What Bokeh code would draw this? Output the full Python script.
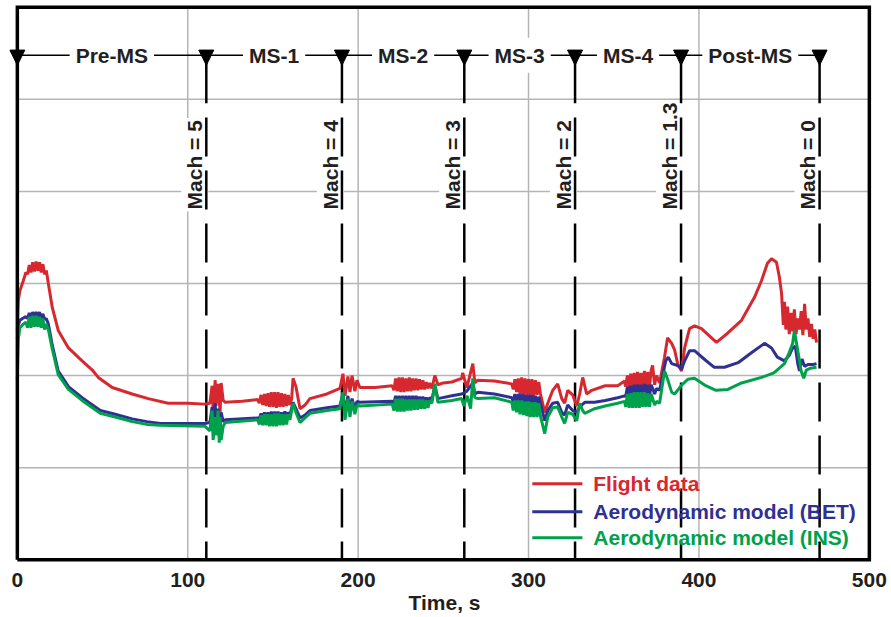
import math
from bokeh.plotting import figure
from bokeh.models import Range1d, FixedTicker
from bokeh.core.properties import value
from bokeh.embed import file_html
from bokeh.resources import INLINE

# ---------------- data (time in s, signal in grid units) ----------------
FLIGHT = [
(0,2.49),(0.6,2.82),(1.5,2.92),(3.5,3.03),(5,3.12),
(6,3.10),(7,3.20),(8,3.12),(9,3.23),(10,3.13),(11,3.24),(12,3.14),(13,3.23),(14,3.12),(15,3.21),(16,3.10),(17,3.14),
(18.2,3.00),(20.5,2.74),(24,2.49),(30,2.30),(38,2.16),(44,2.06),(47.5,1.98),(55.7,1.87),(67.4,1.80),(76.8,1.75),(88.5,1.70),(100,1.70),(110,1.69),
(113,1.70),(114.3,1.89),(114.9,1.62),(116.1,1.95),(116.6,1.67),(117.8,1.91),(119,1.60),(119.6,1.92),(120.8,1.73),(122,1.71),(132,1.72),(141,1.74),
(142,1.70),(143,1.79),(144,1.68),(145,1.80),(146,1.67),(147,1.81),(148,1.66),(149,1.82),(150,1.66),(151,1.82),(152,1.65),(153,1.82),(154,1.66),(155,1.81),(156,1.66),(157,1.80),(158,1.67),(159,1.79),(160,1.68),(161,1.75),
(161.8,1.97),(163.5,1.88),(165.9,1.64),(168.8,1.68),(171.7,1.75),(181.7,1.80),(189.3,1.86),
(191.1,2.02),(192.3,1.78),(194,1.99),(195.2,1.82),(196.4,2.00),(198.1,1.83),(199.3,1.95),(201,1.87),(210,1.87),(220,1.89),
(221,1.84),(222,1.97),(223,1.83),(224,1.98),(225,1.82),(226,1.98),(227,1.82),(228,1.97),(229,1.83),(230,1.98),(231,1.83),(232,1.97),(233,1.84),(234,1.97),(235,1.84),(236,1.96),(237,1.85),(238,1.95),(239,1.85),(240,1.93),(241,1.86),(242,1.92),(243.3,1.86),
(245,2.00),(246.8,1.90),(250,1.92),(255,1.93),(260.8,1.97),(261.4,2.03),(263.8,1.87),(267.3,2.13),(268.5,1.92),(270.2,1.95),(280,1.94),(290.2,1.91),
(291,1.85),(292,1.96),(293,1.82),(294,1.97),(295,1.80),(296,1.98),(297,1.79),(298,1.97),(299,1.79),(300,1.96),(301,1.78),(302,1.96),(303,1.78),(304,1.95),(305,1.79),(306,1.93),(307,1.80),
(309.5,1.60),(311.3,1.70),(314.2,1.84),(317.1,1.91),(319.5,1.75),(321.2,1.70),(323,1.84),(325.9,1.79),(328.3,1.67),(330,1.80),(331.8,1.98),(334.1,1.80),(337.1,1.84),(345,1.89),(352.3,1.89),(356.4,1.94),
(357,1.88),(358,2.00),(359,1.87),(360,2.02),(361,1.87),(362,2.03),(363,1.86),(364,2.04),(365,1.87),(366,2.03),(367,1.86),(368,2.05),(369,1.87),(370,2.04),(371,1.88),(372,2.06),(372.8,2.11),(374,1.90),(375.1,2.00),
(376.9,1.92),(379.8,2.20),(381.6,2.41),(384,2.35),(385.7,2.28),(387.5,2.13),(389.8,2.05),(391.6,2.30),(394.5,2.51),(397.4,2.54),(401.5,2.51),(407.4,2.41),(410.3,2.36),(416.8,2.46),(425,2.60),(432.6,2.85),(436.7,3.03),(440.2,3.22),(442.6,3.27),(445.5,3.23),(447.2,3.07),(448.5,2.89),(449.5,2.55),
(450.2,2.80),(451,2.50),(452,2.75),(453,2.45),(454,2.68),(455,2.48),(456,2.72),(457,2.45),(458,2.62),(459,2.50),(460,2.70),(461,2.44),(462,2.78),(463,2.50),(464,2.62),(465,2.42),(466,2.56),(467,2.40),(468,2.50),(469,2.36)]

BET = [
(0,2.40),(0.6,2.55),(1.5,2.60),(3,2.62),(5,2.64),
(6,2.62),(7,2.68),(8,2.62),(9,2.69),(10,2.63),(11,2.69),(12,2.63),(13,2.69),(14,2.62),(15,2.67),(16,2.61),(17,2.62),
(18.2,2.56),(20.5,2.33),(24,2.05),(30,1.88),(38,1.76),(48.7,1.62),(57.4,1.58),(67.4,1.53),(76,1.50),(84,1.48),(110,1.48),
(113,1.49),(114.3,1.66),(114.9,1.46),(116.1,1.70),(116.6,1.50),(117.8,1.64),(119,1.44),(119.6,1.60),(120.8,1.50),(122,1.52),(141,1.54),
(142,1.53),(143,1.59),(144,1.52),(145,1.60),(146,1.52),(147,1.60),(148,1.52),(149,1.61),(150,1.52),(151,1.61),(152,1.53),(153,1.61),(154,1.53),(155,1.60),(156,1.54),(157,1.61),(158,1.55),(159,1.60),(160,1.57),
(161.8,1.71),(163.5,1.64),(165.9,1.54),(168.8,1.57),(171.7,1.62),(181.7,1.65),(189.3,1.67),
(191.1,1.80),(192.3,1.60),(194,1.78),(195.2,1.62),(196.4,1.75),(198.1,1.64),(199.3,1.72),(201,1.71),(220,1.72),
(221,1.70),(222,1.78),(223,1.70),(224,1.78),(225,1.70),(226,1.78),(227,1.71),(228,1.78),(229,1.71),(230,1.78),(231,1.71),(232,1.78),(233,1.72),(234,1.78),(235,1.72),(236,1.77),(237,1.72),(238,1.77),(239,1.73),(240,1.76),(241,1.73),(242,1.76),(243.3,1.74),
(245,1.89),(246.8,1.75),(255,1.78),(260.8,1.80),(263.8,1.83),(267.3,1.92),(268.5,1.80),(270.2,1.82),(280,1.80),(290.2,1.76),
(291,1.72),(292,1.80),(293,1.71),(294,1.80),(295,1.70),(296,1.80),(297,1.70),(298,1.79),(299,1.70),(300,1.79),(301,1.69),(302,1.79),(303,1.69),(304,1.78),(305,1.69),(306,1.77),(307,1.70),
(309.5,1.51),(311.3,1.62),(314.2,1.70),(317.1,1.71),(319.5,1.60),(321.2,1.57),(323,1.68),(325.9,1.62),(328.3,1.60),(330,1.66),(333,1.71),(338.8,1.71),(345,1.73),(352.3,1.76),(356.4,1.78),
(357,1.77),(358,1.88),(359,1.77),(360,1.89),(361,1.77),(362,1.90),(363,1.77),(364,1.90),(365,1.78),(366,1.90),(367,1.78),(368,1.91),(369,1.78),(370,1.90),(371,1.78),(372,1.90),(374,1.80),(375.1,1.86),
(376.9,1.84),(380.5,2.16),(382,2.20),(384,2.13),(387.5,2.11),(389.8,2.07),(391.6,2.16),(394.5,2.27),(397.4,2.27),(403,2.18),(409,2.09),(415,2.09),(423,2.14),(431,2.25),(438.5,2.35),(442.6,2.30),(446,2.20),(450.2,2.16),(453,2.22),(455,2.30),(456.5,2.32),(458,2.13),(459,2.05),(460.5,2.18),(462,2.10),(464,2.12),(467,2.12),(469,2.13)]

INS = [
(0,1.95),(0.6,2.40),(1.5,2.52),(3,2.55),(5,2.58),
(6,2.52),(7,2.64),(8,2.52),(9,2.65),(10,2.53),(11,2.65),(12,2.53),(13,2.64),(14,2.52),(15,2.62),(16,2.50),(17,2.56),
(18.2,2.50),(20.5,2.29),(24,2.01),(30,1.85),(38,1.73),(48.7,1.59),(57.4,1.55),(67.4,1.50),(76,1.47),(84,1.46),(110,1.45),
(113,1.40),(114.3,1.62),(114.9,1.30),(116.1,1.55),(116.6,1.35),(117.8,1.62),(118.5,1.27),(119,1.55),(119.6,1.30),(120.8,1.45),(122,1.49),(141,1.52),
(142,1.47),(143,1.57),(144,1.46),(145,1.58),(146,1.46),(147,1.58),(148,1.45),(149,1.58),(150,1.45),(151,1.59),(152,1.45),(153,1.59),(154,1.46),(155,1.58),(156,1.46),(157,1.58),(158,1.47),(159,1.58),(160,1.52),
(161.8,1.70),(163.5,1.60),(165.9,1.49),(168.8,1.54),(171.7,1.59),(181.7,1.62),(189.3,1.64),
(191.1,1.82),(192.3,1.52),(194,1.75),(195.2,1.55),(196.4,1.72),(198.1,1.58),(199.3,1.68),(201,1.67),(220,1.69),
(221,1.62),(222,1.75),(223,1.61),(224,1.75),(225,1.61),(226,1.75),(227,1.61),(228,1.74),(229,1.62),(230,1.74),(231,1.62),(232,1.74),(233,1.63),(234,1.74),(235,1.63),(236,1.74),(237,1.64),(238,1.74),(239,1.64),(240,1.73),(241,1.65),(242,1.73),(243.3,1.70),
(245,1.91),(246.8,1.71),(255,1.73),(260.8,1.75),(262,1.67),(264,1.78),(266,1.64),(267.3,1.97),(268.5,1.76),(270.2,1.75),(280,1.76),(290.2,1.71),
(291,1.62),(292,1.73),(293,1.60),(294,1.73),(295,1.58),(296,1.73),(297,1.57),(298,1.72),(299,1.56),(300,1.72),(301,1.55),(302,1.71),(303,1.55),(304,1.71),(305,1.55),(306,1.70),(307,1.56),
(309.5,1.37),(311.3,1.55),(314.2,1.65),(317.1,1.66),(319.5,1.55),(321.2,1.48),(323,1.60),(325.9,1.58),(328.3,1.51),(330,1.70),(331.8,1.62),(333,1.59),(338.8,1.64),(345,1.67),(352.3,1.70),(356.4,1.72),
(357,1.66),(358,1.80),(359,1.65),(360,1.81),(361,1.65),(362,1.82),(363,1.65),(364,1.82),(365,1.65),(366,1.82),(367,1.66),(368,1.82),(369,1.66),(370,1.81),(371,1.66),(372,1.80),(374,1.68),(375.1,1.72),
(376.9,1.70),(379.8,2.05),(381.6,1.96),(384,1.82),(385.7,1.80),(387.5,1.84),(390,1.90),(393.5,1.96),(397.4,1.97),(404,1.89),(410,1.84),(417,1.85),(425,1.92),(436.7,1.98),(444,2.03),(450.2,2.13),(453,2.25),(455,2.35),(456,2.49),(458,2.27),(460,2.05),(461.5,1.97),(463,2.06),(465.5,2.08),(469,2.09)]

phase_bounds = [0, 110.9, 190.5, 262.3, 327.3, 389.5, 470.8]
phase_names = ["Pre-MS", "MS-1", "MS-2", "MS-3", "MS-4", "Post-MS"]
mach_labels = ["Mach = 5", "Mach = 4", "Mach = 3", "Mach = 2", "Mach = 1.3", "Mach = 0"]
x_ticks = [0, 100, 200, 300, 400, 500]
x_grid = [100, 200, 300, 400]
y_grid = [1, 2, 3, 4, 5]
x_span = [0, 500]
y_span = [0, 6]
series_names = ["Flight data", "Aerodynamic model (BET)", "Aerodynamic model (INS)"]
series_colors = ["#d7282f", "#2e3192", "#00a14b"]

# ---------------- styling constants ----------------
FONT = value("Liberation Sans")
TXT = "#231f20"
GRID = "#b5b5b5"
FS = "21px"
PHASE_Y = 5.478          # level of phase bar
TRI_TOP = 5.535
TRI_TIP = 5.37
TRI_HALF = 4.4           # half width of triangle, in s
SOLID_END = 4.957
DASH_START = 4.804
MACH_LABEL_Y = 3.783
MACH_LABEL_DX = -6.8     # label centre left of the line, in s
PAD_X = 4.6              # room outside the box so the first triangle is not cut
PAD_Y = 0.03
FRAME_W = 870
PX_PER_S = 1.704

x0, x1 = x_span
y0, y1 = y_span
p = figure(width=891, height=617, frame_width=FRAME_W, frame_height=558,
           x_range=Range1d(x0 - PAD_X, x0 - PAD_X + FRAME_W / PX_PER_S), y_range=Range1d(y0 - PAD_Y, y1 + PAD_Y),
           y_axis_location=None, toolbar_location=None,
           output_backend="svg", min_border_left=9, min_border_right=12,
           min_border_top=4, min_border_bottom=55)
p.background_fill_color = "white"
p.border_fill_color = "white"
p.outline_line_color = None
p.grid.visible = False

# x axis
ax = p.xaxis[0]
ax.ticker = FixedTicker(ticks=x_ticks)
ax.axis_line_color = None
ax.major_tick_line_color = None
ax.minor_tick_line_color = None
ax.major_label_text_font = "Liberation Sans"
ax.major_label_text_font_style = "bold"
ax.major_label_text_font_size = FS
ax.major_label_text_color = TXT
ax.major_label_standoff = 4
ax.axis_label = "Time, s"
ax.axis_label_text_font = "Liberation Sans"
ax.axis_label_text_font_style = "bold"
ax.axis_label_text_font_size = FS
ax.axis_label_text_color = TXT
ax.axis_label_standoff = 1

# ---------------- grid lines ----------------
p.segment(x0=x_grid, y0=[y0] * len(x_grid), x1=x_grid, y1=[y1] * len(x_grid), line_color=GRID, line_width=1.5)
p.segment(x0=[x0] * len(y_grid), y0=y_grid, x1=[x1] * len(y_grid), y1=y_grid, line_color=GRID, line_width=1.5)

# ---------------- Mach labels (white box hides grid; lines drawn on top) ----------------
mach_t = phase_bounds[1:]
p.text(x=[t + MACH_LABEL_DX for t in mach_t], y=[MACH_LABEL_Y] * len(mach_t), text=mach_labels,
       angle=math.pi / 2, text_align="left", text_baseline="middle",
       text_font=FONT, text_font_style="bold", text_font_size=FS, text_color=TXT,
       background_fill_color="white", padding=2)

# ---------------- phase bar ----------------
p.line(x=[phase_bounds[0], phase_bounds[-1]], y=[PHASE_Y, PHASE_Y], line_color="black", line_width=1.5)
mid = [(a + b) / 2 for a, b in zip(phase_bounds[:-1], phase_bounds[1:])]
p.text(x=mid, y=[PHASE_Y] * len(mid), text=phase_names, text_align="center", text_baseline="middle",
       text_font=FONT, text_font_style="bold", text_font_size=FS, text_color=TXT,
       background_fill_color="white", padding=6)

# vertical Mach lines
p.segment(x0=mach_t, y0=[PHASE_Y] * len(mach_t), x1=mach_t, y1=[SOLID_END] * len(mach_t),
          line_color="black", line_width=2.5)
p.segment(x0=mach_t, y0=[DASH_START] * len(mach_t), x1=mach_t, y1=[y0] * len(mach_t),
          line_color="black", line_width=2.5, line_dash="39 14")

# ---------------- curves ----------------
for data, col in zip([FLIGHT, BET, INS], series_colors):
    p.line(x=[d[0] for d in data], y=[d[1] for d in data], line_color=col, line_width=3)

# ---------------- plot box ----------------
p.line(x=[x0, x1, x1, x0, x0], y=[y0, y0, y1, y1, y0], line_color="black", line_width=3.5, line_join="miter")

# phase triangles
p.patches(xs=[[t - TRI_HALF, t + TRI_HALF, t] for t in phase_bounds],
          ys=[[TRI_TOP, TRI_TOP, TRI_TIP] for t in phase_bounds],
          fill_color="black", line_color="black", line_width=1)

# ---------------- legend ----------------
leg_y = [0.826, 0.522, 0.239]
p.segment(x0=[302.2] * 3, y0=leg_y, x1=[331.6] * 3, y1=leg_y, line_color=series_colors, line_width=3)
p.text(x=[338.0] * 3, y=leg_y, text=series_names, text_align="left", text_baseline="middle",
       text_font=FONT, text_font_style="bold", text_font_size=FS, text_color=series_colors)

open("out.html", "w").write(file_html(p, INLINE))
